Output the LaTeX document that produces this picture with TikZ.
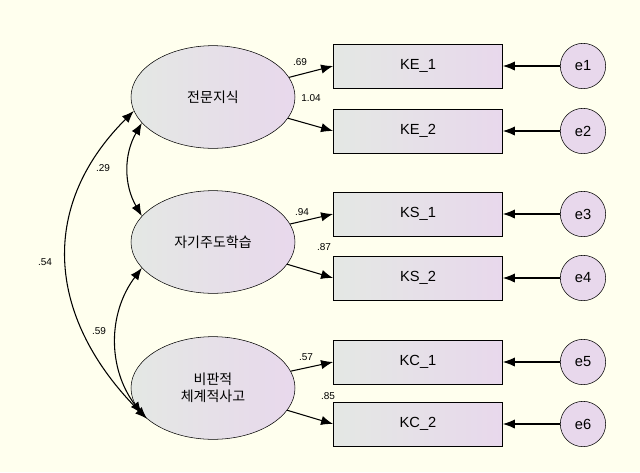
\documentclass[tikz,border=0pt]{standalone}
\usepackage{fontspec}
\setmainfont{Liberation Sans}
\newfontfamily\kor{Noto Sans CJK KR}
\usetikzlibrary{arrows.meta, positioning, shapes.geometric}
\definecolor{bgcream}{HTML}{FFFFEE}
\definecolor{fillgray}{HTML}{E4E8E4}
\definecolor{filllav}{HTML}{E8D8EC}
\begin{document}
\begin{tikzpicture}[
      x=0.75pt, y=-0.75pt,
      font=\fontsize{11}{13}\selectfont,
      latent/.style={draw, ellipse, minimum width=123pt, minimum height=77pt, left color=fillgray, right color=filllav, align=center, font=\kor\fontsize{10.5}{13}\selectfont},
      obs/.style={draw, rectangle, minimum width=127pt, minimum height=33pt, left color=fillgray, right color=filllav},
      err/.style={draw, circle, minimum size=34pt, inner sep=0pt, fill=filllav},
      arrow/.style={-{Latex[length=9pt, width=7pt]}, thick},
      cov/.style={{Latex[length=9pt, width=7pt]}-{Latex[length=9pt, width=7pt]}, thick},
      est/.style={font=\fontsize{7.5}{9}\selectfont, inner sep=0pt}
    ]
    \fill[bgcream] (0,0) rectangle (640,472);

    \node[latent] (ke) at (213,97) {전문지식};
    \node[latent] (ks) at (213,242) {자기주도학습};
    \node[latent] (kc) at (213,388) {비판적\\체계적사고};

    \node[obs] (ke1) at (418,66) {KE\_1};
    \node[obs] (ke2) at (418,131) {KE\_2};
    \node[obs] (ks1) at (418,214) {KS\_1};
    \node[obs] (ks2) at (418,278) {KS\_2};
    \node[obs] (kc1) at (418,362) {KC\_1};
    \node[obs] (kc2) at (418,424) {KC\_2};

    \foreach \i/\y in {1/66, 2/131, 3/214, 4/278, 5/362, 6/424}
      \node[err] (e\i) at (583,\y) {e\i};

    % loadings
    \draw[arrow] (ke) -- (ke1.west);
    \draw[arrow] (ke) -- (ke2.west);
    \draw[arrow] (ks) -- (ks1.west);
    \draw[arrow] (ks) -- (ks2.west);
    \draw[arrow] (kc) -- (kc1.west);
    \draw[arrow] (kc) -- (kc2.west);
    \node[est] (l1) at (300,62) {.69};
    \node[est] (l2) at (311,98) {1.04};
    \node[est] (l3) at (302,212) {.94};
    \node[est] (l4) at (324,247) {.87};
    \node[est] (l5) at (306,357) {.57};
    \node[est] (l6) at (328,396) {.85};

    % errors
    \foreach \i/\o in {1/ke1, 2/ke2, 3/ks1, 4/ks2, 5/kc1, 6/kc2}
      \draw[arrow] (e\i) -- (\o);

    % covariances
    \draw[cov] (ke.200) to[out=240, in=120] (ks.160);
    \draw[cov] (ks.200) to[out=233, in=127] (kc.200);
    \draw[cov] (ke.190) to[out=225, in=135, looseness=1.15] (kc.205);
    \node[est] (c1) at (103,168) {.29};
    \node[est] (c2) at (99,331) {.59};
    \node[est] (c3) at (45,262) {.54};
\end{tikzpicture}
\end{document}
